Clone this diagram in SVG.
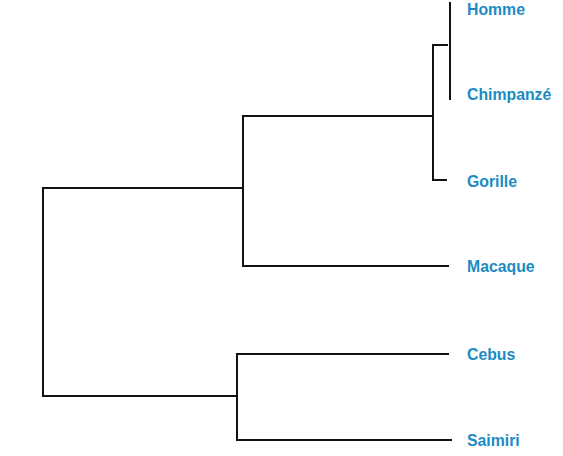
<svg xmlns="http://www.w3.org/2000/svg" width="563" height="456" viewBox="0 0 563 456">
<style>
.br{fill:none;stroke:#111;stroke-width:2;stroke-linecap:square;stroke-linejoin:miter}
.lb{font-family:"Liberation Sans",Arial,sans-serif;font-weight:bold;font-size:15.8px;fill:#1b8bc4}
</style>
<rect x="0" y="0" width="563" height="456" fill="#fff"/>
<g id="connectors">
<path class="br" d="M450,3 V99"/>
<path class="br" d="M447,45 H433 V180 H446"/>
<path class="br" d="M433,116 H243 V266 H448"/>
<path class="br" d="M243,188 H43 V396 H237"/>
<path class="br" d="M448,354 H237 V440 H451"/>
</g>
<g id="homme"><text class="lb" x="467" y="15">Homme</text></g>
<g id="chimpanze"><text class="lb" x="467" y="99.5">Chimpanzé</text></g>
<g id="gorille"><text class="lb" x="467" y="186.5">Gorille</text></g>
<g id="macaque"><text class="lb" x="467" y="271.7">Macaque</text></g>
<g id="cebus"><text class="lb" x="467" y="360">Cebus</text></g>
<g id="saimiri"><text class="lb" x="467" y="446">Saimiri</text></g>
</svg>
